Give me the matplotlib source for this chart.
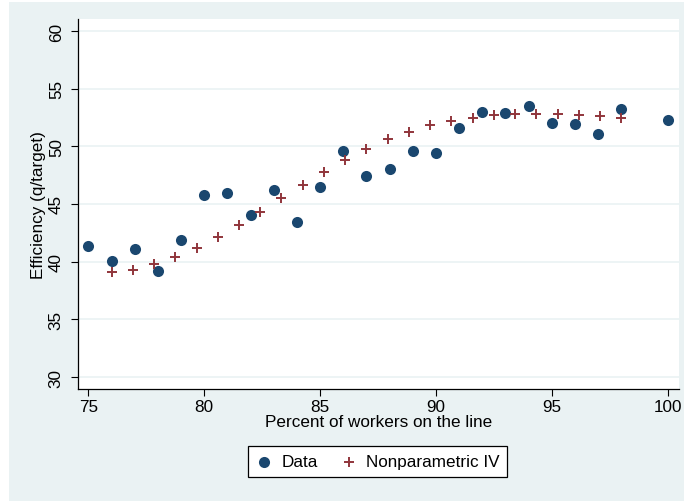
import matplotlib
matplotlib.use("Agg")
import matplotlib.pyplot as plt
from matplotlib.patches import Rectangle

plt.rcParams['font.family'] = ['Liberation Sans', 'DejaVu Sans']

# observed efficiency by share of workers on the line
pct_data = [75, 76, 77, 78, 79, 80, 81, 82, 83, 84, 85, 86, 87, 88, 89, 90,
            91, 92, 93, 94, 95, 96, 97, 98, 100]
eff_data = [41.38, 40.08, 41.09, 39.16, 41.87, 45.80, 45.92, 44.04, 46.24, 43.46,
            46.50, 49.59, 47.40, 48.06, 49.62, 49.42, 51.56, 52.95, 52.92, 53.47,
            52.05, 51.93, 51.07, 53.23, 52.25]

# nonparametric IV fit
pct_iv = [76.0, 76.92, 77.83, 78.75, 79.67, 80.58, 81.5, 82.42, 83.33, 84.25,
          85.17, 86.08, 87.0, 87.92, 88.83, 89.75, 90.67, 91.58, 92.5, 93.42,
          94.33, 95.25, 96.17, 97.08, 98.0]
eff_iv = [39.12, 39.30, 39.76, 40.37, 41.15, 42.16, 43.20, 44.33, 45.50, 46.64,
          47.80, 48.81, 49.80, 50.61, 51.27, 51.82, 52.19, 52.48, 52.71, 52.80,
          52.83, 52.80, 52.74, 52.65, 52.48]

xticks = [75, 80, 85, 90, 95, 100]
yticks = [30, 35, 40, 45, 50, 55, 60]

navy = '#1a476f'
maroon = '#90353b'
bg = '#eaf2f3'
fs = 12.3

fig = plt.figure(figsize=(6.84, 5.02), dpi=100, facecolor='white')
fig.patches.append(Rectangle((9 / 684, 0), 1, 1 - 3 / 502, transform=fig.transFigure,
                             facecolor=bg, edgecolor='none', zorder=-10))

ax = fig.add_axes([77.7 / 684, 1 - 390 / 502, (679 - 77.7) / 684, 370 / 502])
ax.set_facecolor('white')

ax.scatter(pct_data, eff_data, s=64, color=navy, marker='o', linewidths=0,
           label='Data', zorder=3)
ax.scatter(pct_iv, eff_iv, s=48, color=maroon, marker='+', linewidths=1.4,
           label='Nonparametric IV', zorder=3)

ax.set_xlim(74.54, 100.49)
ax.set_ylim(28.96, 61.04)
ax.set_xticks(xticks)
ax.set_yticks(yticks)
ax.set_yticklabels([str(t) for t in yticks], rotation=90, va='center')
ax.tick_params(axis='both', labelsize=fs, length=5, width=0.8, color='black', pad=2)
ax.tick_params(axis='y', pad=5)
ax.grid(axis='y', color=bg, linewidth=1.2, zorder=0)
ax.set_axisbelow(True)

for side in ['top', 'right']:
    ax.spines[side].set_visible(False)
for side in ['left', 'bottom']:
    ax.spines[side].set_color('black')
    ax.spines[side].set_linewidth(0.9)

ax.set_xlabel('Percent of workers on the line', fontsize=fs, labelpad=0)
ax.set_ylabel('Efficiency (q/target)', fontsize=fs, labelpad=2)

leg = fig.legend(loc='center', bbox_to_anchor=(377.5 / 684, 1 - 462.5 / 502), ncol=2,
                 fontsize=fs, frameon=True, fancybox=False, edgecolor='black',
                 framealpha=1, handletextpad=0.5, columnspacing=1.3,
                 borderpad=0.45, handlelength=1.0, scatterpoints=1)
leg.get_frame().set_linewidth(0.9)

fig.savefig('out.png', dpi=100, facecolor=fig.get_facecolor())
